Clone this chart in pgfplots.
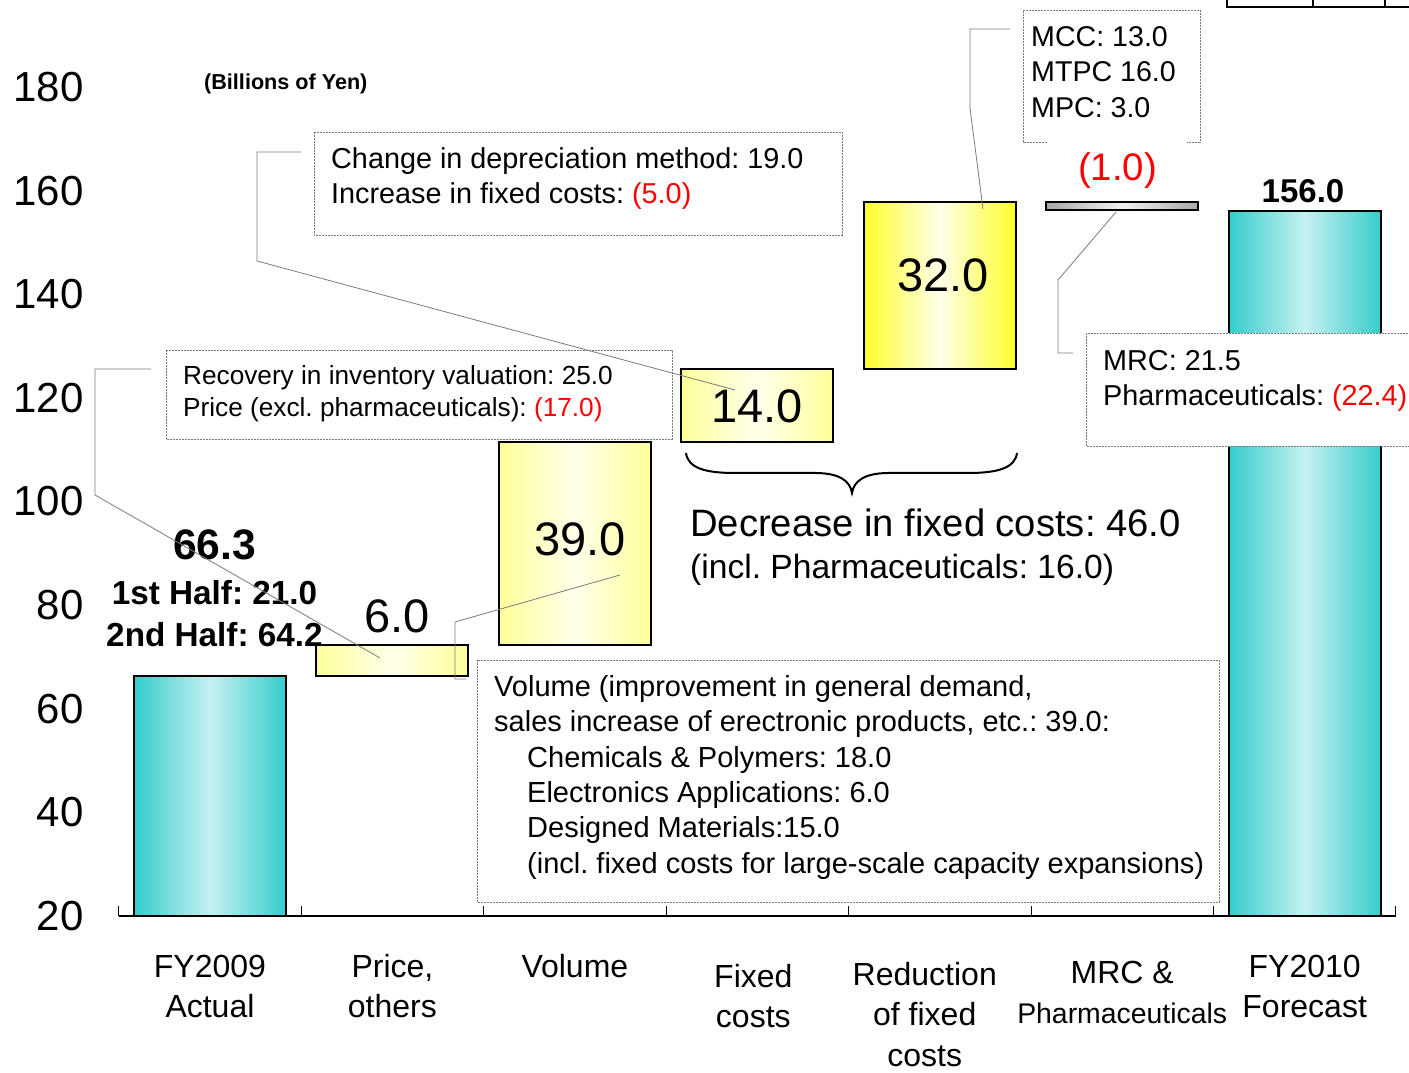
\documentclass[border=0pt]{standalone}
\usepackage{pgfplots}
\pgfplotsset{compat=1.18}
\usepackage{fontspec}
\setmainfont{Liberation Sans}
\frenchspacing
\definecolor{tealD}{HTML}{36CCCC}
\definecolor{tealL}{HTML}{C6F1F1}
\definecolor{yelP}{HTML}{FFFF99}
\definecolor{yelL}{HTML}{FFFFEC}
\definecolor{yelS}{HTML}{FFFF2A}
\definecolor{grayD}{HTML}{A8A8A8}
\definecolor{grayL}{HTML}{F2F2F2}
\definecolor{callout}{HTML}{7A7A7A}
\newcommand{\fs}[2]{\fontsize{#1}{#2}\selectfont}
\begin{document}
\begin{tikzpicture}
\useasboundingbox (0,0) rectangle (1409pt,1072pt);
\begin{axis}[
  at={(118.75pt,156pt)}, anchor=south west,
  scale only axis, width=1277.25pt, height=829pt,
  xmin=-0.5, xmax=6.5, ymin=20, ymax=180,
  clip=false,
  axis lines*=left,
  y axis line style={draw=none},
  x axis line style={line width=1.5pt},
  ytick={20,40,...,180},
  ytick style={draw=none},
  yticklabel style={font=\fs{42}{42}, anchor=east, inner sep=0pt, xshift=-35pt},
  /pgf/number format/assume math mode=true,
  xtick={0,1,2,3,4,5,6},
  major tick length=0pt,
  minor xtick={-0.5,0.5,1.5,2.5,3.5,4.5,5.5,6.5},
  minor tick length=10pt,
  tick align=inside,
  minor x tick style={black, line width=1pt},
  xticklabels={{\rule{0pt}{51pt}FY2009\\Actual},{\rule{0pt}{51pt}Price,\\others},{\rule{0pt}{51pt}Volume},{\rule{0pt}{61pt}\hbox{Fixed\kern8pt}\\\hbox{costs\kern8pt}},{\rule{0pt}{59pt}\hbox{Reduction\kern30pt}\\\hbox{of fixed\kern30pt}\\\hbox{costs\kern30pt}},{\rule{0pt}{57pt}MRC \&\\{\fs{28.4}{36}Pharmaceuticals}},{\rule{0pt}{51pt}FY2010\\Forecast}},
  xticklabel style={font=\fs{32}{40.5}, align=center, anchor=north, inner sep=0pt, yshift=-10pt},
]
% waterfall bars: (x - half width, start) ... (x + half width, end)
\addplot[draw=black, line width=2pt, line join=miter, left color=tealD, right color=tealD, middle color=tealL]
  coordinates {(-0.4165,20) (0.4165,20) (0.4165,66.3) (-0.4165,66.3)} -- cycle;
\addplot[draw=black, line width=2pt, line join=miter, left color=yelP, right color=yelP, middle color=yelL]
  coordinates {(0.5835,66.3) (1.4165,66.3) (1.4165,72.3) (0.5835,72.3)} -- cycle;
\addplot[draw=black, line width=2pt, line join=miter, left color=yelP, right color=yelP, middle color=yelL]
  coordinates {(1.5835,72.3) (2.4165,72.3) (2.4165,111.4) (1.5835,111.4)} -- cycle;
\addplot[draw=black, line width=2pt, line join=miter, left color=yelP, right color=yelP, middle color=yelL]
  coordinates {(2.5835,111.4) (3.4165,111.4) (3.4165,125.5) (2.5835,125.5)} -- cycle;
\addplot[draw=black, line width=2pt, line join=miter, left color=yelS, right color=yelS, middle color=yelL]
  coordinates {(3.5835,125.5) (4.4165,125.5) (4.4165,157.8) (3.5835,157.8)} -- cycle;
\addplot[draw=black, line width=2pt, line join=miter, left color=grayD, right color=grayD, middle color=grayL]
  coordinates {(4.5835,156.2) (5.4165,156.2) (5.4165,157.8) (4.5835,157.8)} -- cycle;
\addplot[draw=black, line width=2pt, line join=miter, left color=tealD, right color=tealD, middle color=tealL]
  coordinates {(5.5835,20) (6.4165,20) (6.4165,156.0) (5.5835,156.0)} -- cycle;
\end{axis}
\begin{scope}[x=1pt, y=-1pt, yshift=1072pt,
  box/.style={draw=callout, line width=0.8pt, dash pattern=on 2pt off 1pt, fill=white},
  cl/.style={draw=callout, line width=0.8pt},
  tx/.style={anchor=base west, inner sep=0pt}]
% partial table at top right
\draw[line width=2pt] (1227,-3) -- (1227,7) -- (1415,7);
\draw[line width=2pt] (1313,-3) -- (1313,7);
\draw[line width=2pt] (1385,-3) -- (1385,7);
% boxes
\draw[box] (314,132) rectangle (842,235);
\draw[box] (166,350) rectangle (672,439);
\fill[white] (1023,10) rectangle (1200,142);
\draw[draw=callout, line width=0.8pt, dash pattern=on 2pt off 1pt] (1047,142) -- (1023,142) -- (1023,10) -- (1200,10) -- (1200,142) -- (1187,142);
\draw[box] (1086,333) rectangle (1425,446);
\draw[box] (477,660) rectangle (1219,902);
% box texts
\node[tx, font=\fs{28.8}{35}] at (331,169) {Change in depreciation method: 19.0};
\node[tx, font=\fs{28.8}{35}] at (331,204) {Increase in fixed costs: \textcolor{red}{(5.0)}};
\node[tx, font=\fs{26.2}{32}] at (183,385) {Recovery in inventory valuation: 25.0};
\node[tx, font=\fs{26.2}{32}] at (183,417) {Price (excl. pharmaceuticals): \textcolor{red}{(17.0)}};
\node[tx, font=\fs{28.6}{35}] at (1031,47) {MCC: 13.0};
\node[tx, font=\fs{28.6}{35}] at (1031,82) {MTPC 16.0};
\node[tx, font=\fs{28.6}{35}] at (1031,118) {MPC: 3.0};
\node[tx, font=\fs{28.8}{35}] at (1103,370.5) {MRC: 21.5};
\node[tx, font=\fs{28.8}{35}] at (1103,405.5) {Pharmaceuticals: \textcolor{red}{(22.4)}};
\node[tx, font=\fs{29}{35}] at (494,697) {Volume (improvement in general demand,};
\node[tx, font=\fs{29}{35}] at (494,732) {sales increase of erectronic products, etc.: 39.0:};
\node[tx, font=\fs{29}{35}] at (527,768) {Chemicals \& Polymers: 18.0};
\node[tx, font=\fs{29}{35}] at (527,803) {Electronics Applications: 6.0};
\node[tx, font=\fs{29}{35}] at (527,838) {Designed Materials:15.0};
\node[tx, font=\fs{29}{35}] at (527,874) {(incl. fixed costs for large-scale capacity expansions)};
% brace and fixed cost text
\draw[line width=2pt] (686,453) .. controls (688,468) and (705,473) .. (735,473) -- (815,473)
  .. controls (838,473) and (850,480) .. (852,493)
  .. controls (854,480) and (866,473) .. (889,473) -- (968,473)
  .. controls (998,473) and (1015,468) .. (1017,453);
\node[tx, font=\fs{38.2}{44}] at (690,537) {Decrease in fixed costs: 46.0};
\node[tx, font=\fs{33.6}{40}] at (690,579) {(incl. Pharmaceuticals: 16.0)};
% bar labels
\node[anchor=base, inner sep=0pt, font=\fs{42.6}{48}\bfseries] at (214.5,560) {66.3};
\node[anchor=base, inner sep=0pt, font=\fs{33.3}{40}\bfseries] at (214.5,605) {1st Half: 21.0};
\node[anchor=base, inner sep=0pt, font=\fs{33.3}{40}\bfseries] at (214.5,647) {2nd Half: 64.2};
\node[anchor=base, inner sep=0pt, font=\fs{47}{52}] at (397,633) {6.0};
\node[anchor=base, inner sep=0pt, font=\fs{47}{52}] at (580,556) {39.0};
\node[anchor=base, inner sep=0pt, font=\fs{47}{52}] at (757,423) {14.0};
\node[anchor=base, inner sep=0pt, font=\fs{47}{52}] at (943,292) {32.0};
\node[anchor=base, inner sep=0pt, font=\fs{38.4}{44}, text=red] at (1117.5,181) {(1.0)};
\node[anchor=base, inner sep=0pt, font=\fs{33}{40}\bfseries] at (1303,203) {156.0};
\node[tx, font=\fs{21.6}{26}\bfseries] at (204,90) {(Billions of Yen)};
% connector lines
\draw[cl] (151,369) -- (95,369) -- (95,495) -- (380,658);
\draw[cl] (301,152) -- (257,152) -- (257,261) -- (735,390);
\draw[cl] (1010,29) -- (970,29) -- (970,108) -- (983,209);
\draw[cl] (1073,353) -- (1058,353) -- (1058,280) -- (1116,212);
\draw[cl] (620,575) -- (455,622) -- (455,679) -- (466,679);
\end{scope}
\end{tikzpicture}
\end{document}
